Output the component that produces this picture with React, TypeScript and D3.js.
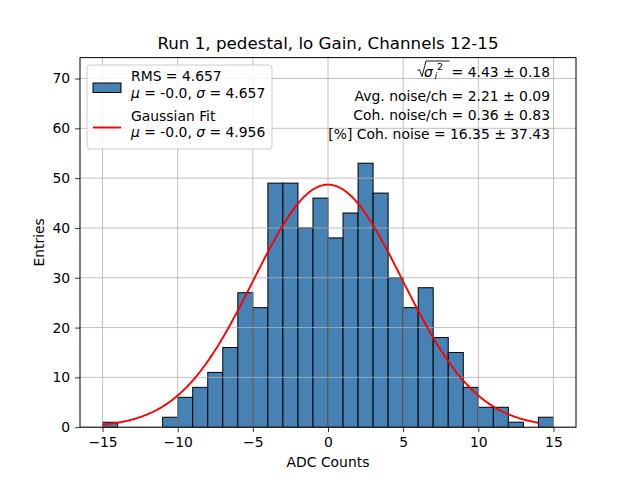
import React, { useRef, useEffect } from 'react';
import * as d3 from 'd3';

// histogram bin edges run from -15 to 15, width 1
const binStarts = d3.range(-15, 15);
const counts = [1, 0, 0, 0, 2, 6, 8, 11, 16, 27, 24, 49, 49, 40, 46, 38, 43, 53, 47, 30, 24, 28, 18, 15, 8, 4, 4, 1, 0, 2];

// gaussian fit parameters
const fitAmp = 48.7;
const fitMu = 0;
const fitSigma = 4.956;

const xTicks = [-15, -10, -5, 0, 5, 10, 15];
const yTicks = [0, 10, 20, 30, 40, 50, 60, 70];

const legendLines = [
  ['RMS = 4.657', 'μ = -0.0, σ = 4.657'],
  ['Gaussian Fit', 'μ = -0.0, σ = 4.956'],
];
const noiseLines = ['Avg. noise/ch = 2.21 ± 0.09', 'Coh. noise/ch = 0.36 ± 0.83', '[%] Coh. noise = 16.35 ± 37.43'];

const W = 640;
const H = 480;
const FONT = 'DejaVu Sans, sans-serif';

const App: React.FC = () => {
  const svgRef = useRef<SVGSVGElement | null>(null);
  const margin = { top: 57.6, right: 64, bottom: 52.8, left: 80 };
  const innerWidth = W - margin.left - margin.right;
  const innerHeight = H - margin.top - margin.bottom;

  useEffect(() => {
    if (!svgRef.current) return;
    const svg = d3.select(svgRef.current);
    svg.selectAll('*').remove();

    const x = d3.scaleLinear().domain([-16.5, 16.5]).range([0, innerWidth]);
    const y = d3.scaleLinear().domain([0, d3.max(counts)! * 1.4]).range([innerHeight, 0]);

    svg.append('rect').attr('width', W).attr('height', H).attr('fill', 'white');

    const g = svg.append('g').attr('transform', `translate(${margin.left},${margin.top})`);

    // bars
    g.selectAll('rect.bar')
      .data(binStarts.map((s, i) => ({ s, c: counts[i] })).filter(d => d.c > 0))
      .join('rect')
      .attr('class', 'bar')
      .attr('x', d => x(d.s))
      .attr('y', d => y(d.c))
      .attr('width', d => x(d.s + 1) - x(d.s))
      .attr('height', d => y(0) - y(d.c))
      .attr('fill', '#4682b4')
      .attr('stroke', 'black')
      .attr('stroke-width', 1);

    // grid (above patches, below lines)
    const grid = g.append('g').attr('stroke', '#b0b0b0').attr('stroke-width', 0.8);
    xTicks.forEach(t => {
      grid.append('line').attr('x1', x(t)).attr('x2', x(t)).attr('y1', 0).attr('y2', innerHeight);
    });
    yTicks.forEach(t => {
      grid.append('line').attr('x1', 0).attr('x2', innerWidth).attr('y1', y(t)).attr('y2', y(t));
    });

    // gaussian fit curve
    const fitX = d3.range(-15, 14.001, 0.1);
    const gauss = (v: number) => fitAmp * Math.exp(-((v - fitMu) ** 2) / (2 * fitSigma ** 2));
    g.append('path')
      .attr('d', d3.line<number>().x(v => x(v)).y(v => y(gauss(v)))(fitX)!)
      .attr('fill', 'none')
      .attr('stroke', 'red')
      .attr('stroke-width', 1.9);

    // axes frame
    g.append('rect')
      .attr('width', innerWidth)
      .attr('height', innerHeight)
      .attr('fill', 'none')
      .attr('stroke', 'black')
      .attr('stroke-width', 1);

    const xAxis = g.append('g')
      .attr('transform', `translate(0,${innerHeight})`)
      .call(d3.axisBottom(x).tickValues(xTicks).tickSize(4.9).tickPadding(4.9).tickFormat(d => d3.format('d')(d as number).replace('-', '−')));
    const yAxis = g.append('g')
      .call(d3.axisLeft(y).tickValues(yTicks).tickSize(4.9).tickPadding(4.9));
    [xAxis, yAxis].forEach(a => {
      a.select('.domain').remove();
      a.selectAll('text').attr('font-family', FONT).attr('font-size', 13.9).attr('fill', 'black');
      a.selectAll('line').attr('stroke', 'black').attr('stroke-width', 0.8);
    });

    // labels
    svg.append('text')
      .attr('x', margin.left + innerWidth / 2).attr('y', 49.3)
      .attr('text-anchor', 'middle').attr('font-family', FONT).attr('font-size', 16.7)
      .text('Run 1, pedestal, lo Gain, Channels 12-15');
    svg.append('text')
      .attr('x', margin.left + innerWidth / 2).attr('y', 467)
      .attr('text-anchor', 'middle').attr('font-family', FONT).attr('font-size', 13.9)
      .text('ADC Counts');
    svg.append('text')
      .attr('transform', `translate(44,${margin.top + innerHeight / 2}) rotate(-90)`)
      .attr('text-anchor', 'middle').attr('font-family', FONT).attr('font-size', 13.9)
      .text('Entries');

    // legend
    const leg = svg.append('g');
    leg.append('rect')
      .attr('x', 87).attr('y', 65).attr('width', 185).attr('height', 84).attr('rx', 3)
      .attr('fill', 'white').attr('fill-opacity', 0.8).attr('stroke', '#cccccc').attr('stroke-width', 1);
    leg.append('rect')
      .attr('x', 93).attr('y', 83).attr('width', 28).attr('height', 9.5)
      .attr('fill', '#4682b4').attr('stroke', 'black').attr('stroke-width', 1);
    leg.append('line')
      .attr('x1', 93).attr('x2', 121).attr('y1', 127.5).attr('y2', 127.5)
      .attr('stroke', 'red').attr('stroke-width', 1.9);
    const legBase = [[81, 97.5], [120.5, 137.3]];
    legendLines.forEach((lines, i) => {
      lines.forEach((line, j) => {
        const t = leg.append('text')
          .attr('x', 131).attr('y', legBase[i][j])
          .attr('font-family', FONT).attr('font-size', 13.9);
        if (j === 0) {
          t.text(line);
        } else {
          // mathtext: italic greek letters
          const parts = line.split(/(μ|σ)/);
          parts.forEach(p => {
            const ts = t.append('tspan').text(p);
            if (p === 'μ' || p === 'σ') ts.attr('font-style', 'italic');
          });
        }
      });
    });

    // noise annotation
    const ann = svg.append('g').attr('font-family', FONT).attr('font-size', 13.9);
    ann.append('text').attr('x', 550).attr('y', 77).attr('text-anchor', 'end').text('= 4.43 ± 0.18');
    ann.append('path')
      .attr('d', 'M417.5,70.5 L419.5,69.5 L422,76.5 L426,61 L449.5,61')
      .attr('fill', 'none').attr('stroke', 'black').attr('stroke-width', 0.9);
    ann.append('text').attr('x', 424).attr('y', 77).attr('font-style', 'italic').text('σ');
    ann.append('text').attr('x', 437).attr('y', 69.5).attr('font-size', 9.5).text('2');
    ann.append('text').attr('x', 434.5).attr('y', 79).attr('font-size', 9.5).attr('font-style', 'italic').text('i');
    noiseLines.forEach((line, i) => {
      ann.append('text').attr('x', 550).attr('y', 100.5 + i * 19).attr('text-anchor', 'end').text(line);
    });
  }, []);

  return <svg ref={svgRef} width={W} height={H} style={{ position: 'absolute', left: 0, top: 0 }} />;
};

export default App;
